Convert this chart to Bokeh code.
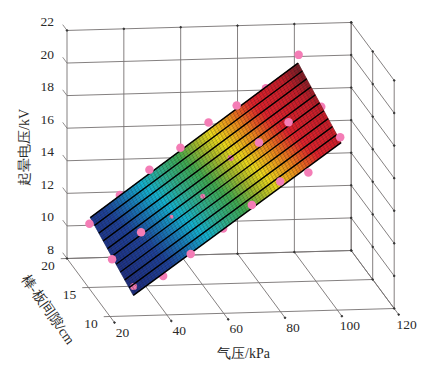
from bokeh.plotting import figure
from bokeh.embed import file_html
from bokeh.resources import INLINE
from bokeh.models import Range1d
from bokeh.core.properties import value

# ---- data ----
pressure_ticks = [20, 40, 60, 80, 100, 120]
gap_ticks = [10, 15, 20]
volt_ticks = [8, 10, 12, 14, 16, 18, 20, 22]

# measured points: (pressure kPa, gap cm, voltage kV)
p_behind = [38.6, 90, 101.9, 38.7, 59.8]
g_behind = [20, 20, 15, 10, 10]
v_behind = [11.8, 18.1, 18.7, 10.4, 13.2]

p_sunk = [49.2, 60.2, 70, 28.3]
g_sunk = [15, 15, 15, 10]
v_sunk = [12.2, 13.4, 15.7, 9.8]
s_sunk = [4, 5, 6, 7]

p_front = [27.9, 49, 59.9, 69.8, 79.7, 101.5, 48.4, 69.9, 79.9, 89.8, 101, 28.3, 38.5, 80, 90.4]
g_front = [20, 20, 20, 20, 20, 20, 10, 10, 10, 10, 10, 15, 15, 15, 15]
v_front = [10.1, 13.3, 14.6, 16.1, 17.1, 20.1, 11.7, 14.6, 16.0, 16.5, 18.6, 9.7, 11.3, 16.6, 17.8]

# surface corners
surf_p = [28.2, 101.3]
surf_g = [10, 20]
surf_v = [[9.26, 18.28], [10.47, 19.6]]  # rows: gap, columns: pressure

# colour map: voltage -> colour
cmap_v = [9.5, 11, 11.8, 12.6, 13.3, 14.2, 15, 15.6, 16.5, 17.4, 18.7, 19.6]
cmap_c = ["#1f2f80", "#1f429a", "#1a78b8", "#14b4d2", "#2eb094", "#40ac52", "#a8bc2c",
          "#f0dc1c", "#ee8a1c", "#e2222c", "#c81e2a", "#6a1e26"]

# ---- oblique projection of the 3-D box on the page ----
def proj(x, g, z):
    return (66.5 + 2.842 * (x - 20) + 4.3 * (20 - g),
            258 - 0.08 * (x - 20) + 5.8 * (20 - g) - 16.29 * (z - 8))

def hex2rgb(h):
    return [int(h[i:i + 2], 16) for i in (1, 3, 5)]

def colour(v):
    if v <= cmap_v[0]:
        return cmap_c[0]
    for i in range(len(cmap_v) - 1):
        if v <= cmap_v[i + 1]:
            t = (v - cmap_v[i]) / (cmap_v[i + 1] - cmap_v[i])
            a, b = hex2rgb(cmap_c[i]), hex2rgb(cmap_c[i + 1])
            return "#%02x%02x%02x" % tuple(round(a[k] + (b[k] - a[k]) * t) for k in range(3))
    return cmap_c[-1]

def surf(u, w):
    """u, w in 0..1 across pressure and gap"""
    x = surf_p[0] + (surf_p[1] - surf_p[0]) * u
    g = surf_g[0] + (surf_g[1] - surf_g[0]) * w
    z = ((1 - w) * ((1 - u) * surf_v[0][0] + u * surf_v[0][1]) +
         w * ((1 - u) * surf_v[1][0] + u * surf_v[1][1]))
    return x, g, z

p = figure(width=422, height=364, output_backend="svg", toolbar_location=None,
           x_range=Range1d(0, 422), y_range=Range1d(364, 0), min_border=0,
           outline_line_color=None)
p.axis.visible = False
p.grid.visible = False
p.background_fill_color = "white"
p.border_fill_color = "white"

GRID = "#767272"

def seg(a, b, **kw):
    A, B = proj(*a), proj(*b)
    p.line([A[0], B[0]], [A[1], B[1]], line_color=kw.get("c", GRID), line_width=kw.get("w", 0.9))

zmin, zmax = volt_ticks[0], volt_ticks[-1]
xmin, xmax = pressure_ticks[0], pressure_ticks[-1]
gmin, gmax = gap_ticks[0], gap_ticks[-1]

for x in pressure_ticks:
    seg((x, gmax, zmin), (x, gmax, zmax))
    seg((x, gmax, zmin), (x, gmin - 1.05, zmin))
for g in gap_ticks:
    seg((xmax, g, zmin), (xmax, g, zmax))
    seg((xmin - 2.2, g, zmin), (xmax, g, zmin))
for z in volt_ticks:
    seg((xmin, gmax, z), (xmax, gmax, z))
    seg((xmax, gmax, z), (xmax, gmin, z))
    seg((xmin, gmax, z), (xmin, gmax + 1, z), w=0.8)

# small dots at the wall crossings
dx, dy = [], []
for x in pressure_ticks:
    a = proj(x, gmax, zmax); dx.append(a[0]); dy.append(a[1])
    a = proj(x, gmin - 1.05, zmin); dx.append(a[0]); dy.append(a[1])
    a = proj(x, gmax, zmin); dx.append(a[0]); dy.append(a[1])
for z in volt_ticks:
    for g in gap_ticks:
        a = proj(xmax, g, z); dx.append(a[0]); dy.append(a[1])
p.scatter(dx, dy, size=1.6, color="#333333")

PINK = "#f47db6"
def dots(px, pg, pv, size=8.5):
    pts = [proj(a, b, c) for a, b, c in zip(px, pg, pv)]
    p.scatter([q[0] for q in pts], [q[1] for q in pts], size=size, color=PINK, line_color=None)

dots(p_behind, g_behind, v_behind)

# surface fill
NU, NW = 73, 10
qx, qy, qc = [], [], []
for i in range(NU):
    for j in range(NW):
        u0, u1, w0, w1 = i / NU, (i + 1) / NU, j / NW, (j + 1) / NW
        c = [proj(*surf(u0, w0)), proj(*surf(u1, w0)), proj(*surf(u1, w1)), proj(*surf(u0, w1))]
        qx.append([q[0] for q in c]); qy.append([q[1] for q in c])
        qc.append(colour(surf((u0 + u1) / 2, (w0 + w1) / 2)[2]))
p.patches(qx, qy, fill_color=qc, line_color=qc, line_width=0.6)

# partly sunken points
for a, b, c, s in zip(p_sunk, g_sunk, v_sunk, s_sunk):
    dots([a], [b], [c], size=s)

# fine mesh, gap direction
lx, ly = [], []
for i in range(NU + 1):
    a, b = proj(*surf(i / NU, 0)), proj(*surf(i / NU, 1))
    lx.append([a[0], b[0]]); ly.append([a[1], b[1]])
p.multi_line(lx, ly, line_color="#000000", line_width=0.7, line_alpha=0.32)
# fine mesh, pressure direction
lx, ly = [], []
for j in range(NW * 4 + 1):
    if j % 4:
        a, b = proj(*surf(0, j / (NW * 4))), proj(*surf(1, j / (NW * 4)))
        lx.append([a[0], b[0]]); ly.append([a[1], b[1]])
p.multi_line(lx, ly, line_color="#000000", line_width=0.5, line_alpha=0.25)
# bold mesh lines
lx, ly = [], []
for j in range(NW + 1):
    a, b = proj(*surf(0, j / NW)), proj(*surf(1, j / NW))
    lx.append([a[0], b[0]]); ly.append([a[1], b[1]])
p.multi_line(lx, ly, line_color="#000000", line_width=1.5)

dots(p_front, g_front, v_front)

# texts
FONT = value("Liberation Serif")
TC = "#2a2a2a"
def label(x, y, s, size="13.5px", angle=0, align="center"):
    p.text([x], [y], text=[s], text_font=FONT, text_font_size=size, text_color=TC,
           text_align=align, text_baseline="middle", angle=angle, angle_units="deg")

for z in volt_ticks:
    q = proj(xmin, gmax, z)
    label(q[0] - 13, q[1] - 8.5, str(z), align="right")
for x in pressure_ticks:
    q = proj(x, gmin - 1.05, zmin)
    label(q[0] + 8, q[1] + 10, str(x))
for g in gap_ticks:
    q = proj(xmin, g, zmin)
    label(q[0] - 19, q[1] + 7.5, str(g))

label(243, 353, "气压/kPa", size="14px")
label(24, 147, "起晕电压/kV", size="14px", angle=90)
label(47.5, 309, "棒-板间隙/cm", size="14px", angle=-55)

open("out.html", "w").write(file_html(p, INLINE))
